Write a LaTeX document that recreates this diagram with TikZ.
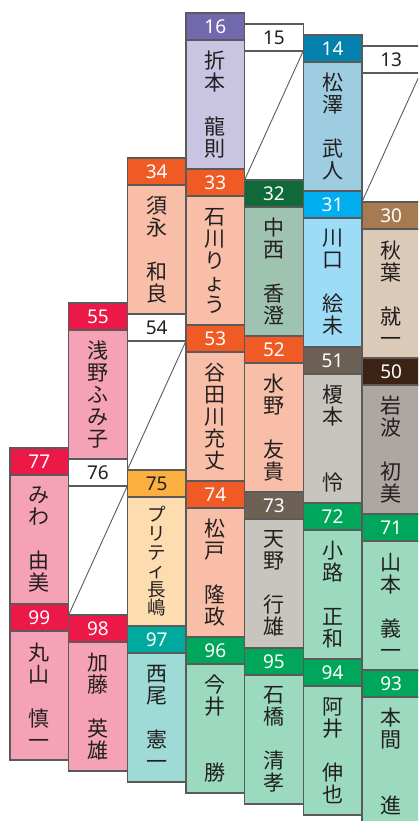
\documentclass[tikz,border=0pt]{standalone}
\usepackage{fontspec}
\newfontfamily\jpfont{Noto Sans CJK JP}
\newfontfamily\numfont{Noto Sans}
\definecolor{bordercol}{HTML}{5A5A5A}
\definecolor{namecol}{HTML}{231F20}
\definecolor{purpleH}{HTML}{7268AE}\definecolor{purpleB}{HTML}{C8C4E1}
\definecolor{blueH}{HTML}{0581AE}\definecolor{blueB}{HTML}{9ECCE0}
\definecolor{orangeH}{HTML}{F05A24}\definecolor{orangeB}{HTML}{F8BEA8}
\definecolor{dgreenH}{HTML}{0F6939}\definecolor{dgreenB}{HTML}{9EC3B0}
\definecolor{cyanH}{HTML}{00AEEF}\definecolor{cyanB}{HTML}{9DDCF7}
\definecolor{brownH}{HTML}{A77B51}\definecolor{brownB}{HTML}{DCCAB8}
\definecolor{dbrownH}{HTML}{3C2314}\definecolor{dbrownB}{HTML}{AEA7A1}
\definecolor{redH}{HTML}{EC1848}\definecolor{redB}{HTML}{F5A2B6}
\definecolor{yellowH}{HTML}{FBB040}\definecolor{yellowB}{HTML}{FDDDAF}
\definecolor{gbrownH}{HTML}{6D6155}\definecolor{gbrownB}{HTML}{C8C5BF}
\definecolor{greenH}{HTML}{00A65A}\definecolor{greenB}{HTML}{9BDABF}
\definecolor{tealH}{HTML}{00A99D}\definecolor{tealB}{HTML}{9FDBD6}
\newcommand\mkcell[8][]{%
  \pgfmathsetmacro\cx{10+58.65*(#2-1)}%
  \pgfmathsetmacro\cy{-20+11*(#2-1)+156*#3}%
  \node[hdr,fill=#5,text=#7] (h#4) at (\cx,\cy) {#4};
  \node[namebox,fill=#6,#1] (b#4) at (\cx,\cy+27) {#8};
}
\newcommand\mkwhite[3]{%
  \pgfmathsetmacro\cx{10+58.65*(#1-1)}%
  \pgfmathsetmacro\cy{-20+11*(#1-1)+156*#2}%
  \node[hdr,fill=white,text=namecol] (h#3) at (\cx,\cy) {#3};
  \node[emptybox] (b#3) at (\cx,\cy+27) {};
  \draw[diag] (b#3.south west) -- (b#3.north east);
}
\begin{document}
\begin{tikzpicture}[x=1pt,y=-1pt,
  hdr/.style={draw=bordercol,line width=1.3pt,minimum width=58.65pt,minimum height=27pt,inner sep=0pt,outer sep=0pt,anchor=north west,font=\numfont\fontsize{19}{19}\selectfont},
  namebox/.style={draw=bordercol,line width=1.3pt,minimum width=58.65pt,minimum height=129pt,inner sep=0pt,outer sep=0pt,anchor=north west,align=center,text=namecol,font=\jpfont\fontsize{21}{22}\selectfont},
  tightname/.style={font=\jpfont\fontsize{18.5}{18.6}\selectfont},
  emptybox/.style={draw=none,fill=none,minimum width=58.65pt,minimum height=129pt,inner sep=0pt,outer sep=0pt,anchor=north west},
  diag/.style={draw=bordercol,line width=0.9pt}]
\useasboundingbox (0,0) rectangle (418,821);
\clip (0,0) rectangle (418,821);
% white cells first
\mkwhite{2}{3}{76}
\mkwhite{3}{2}{54}
\mkwhite{5}{0}{15}
\mkwhite{7}{0}{13}
% column 1
\mkcell{1}{3}{77}{redH}{redB}{white}{み\\わ\\~\\由\\美}
\mkcell{1}{4}{99}{redH}{redB}{white}{丸\\山\\~\\慎\\一}
% column 2
\mkcell{2}{2}{55}{redH}{redB}{white}{浅\\野\\ふ\\み\\子}
\mkcell{2}{4}{98}{redH}{redB}{white}{加\\藤\\~\\英\\雄}
% column 3
\mkcell{3}{1}{34}{orangeH}{orangeB}{white}{須\\永\\~\\和\\良}
\mkcell[tightname]{3}{3}{75}{yellowH}{yellowB}{namecol}{プ\\リ\\テ\\ィ\\長\\嶋}
\mkcell{3}{4}{97}{tealH}{tealB}{white}{西\\尾\\~\\憲\\一}
% column 4
\mkcell{4}{0}{16}{purpleH}{purpleB}{white}{折\\本\\~\\龍\\則}
\mkcell{4}{1}{33}{orangeH}{orangeB}{white}{石\\川\\り\\ょ\\う}
\mkcell{4}{2}{53}{orangeH}{orangeB}{white}{谷\\田\\川\\充\\丈}
\mkcell{4}{3}{74}{orangeH}{orangeB}{white}{松\\戸\\~\\隆\\政}
\mkcell{4}{4}{96}{greenH}{greenB}{white}{今\\井\\~\\~\\勝}
% column 5
\mkcell{5}{1}{32}{dgreenH}{dgreenB}{white}{中\\西\\~\\香\\澄}
\mkcell{5}{2}{52}{orangeH}{orangeB}{white}{水\\野\\~\\友\\貴}
\mkcell{5}{3}{73}{gbrownH}{gbrownB}{white}{天\\野\\~\\行\\雄}
\mkcell{5}{4}{95}{greenH}{greenB}{white}{石\\橋\\~\\清\\孝}
% column 6
\mkcell{6}{0}{14}{blueH}{blueB}{white}{松\\澤\\~\\武\\人}
\mkcell{6}{1}{31}{cyanH}{cyanB}{white}{川\\口\\~\\絵\\未}
\mkcell{6}{2}{51}{gbrownH}{gbrownB}{white}{榎\\本\\~\\~\\怜}
\mkcell{6}{3}{72}{greenH}{greenB}{white}{小\\路\\~\\正\\和}
\mkcell{6}{4}{94}{greenH}{greenB}{white}{阿\\井\\~\\伸\\也}
% column 7
\mkcell{7}{1}{30}{brownH}{brownB}{white}{秋\\葉\\~\\就\\一}
\mkcell{7}{2}{50}{dbrownH}{dbrownB}{white}{岩\\波\\~\\初\\美}
\mkcell{7}{3}{71}{greenH}{greenB}{white}{山\\本\\~\\義\\一}
\mkcell{7}{4}{93}{greenH}{greenB}{white}{本\\間\\~\\~\\進}
\end{tikzpicture}
\end{document}
